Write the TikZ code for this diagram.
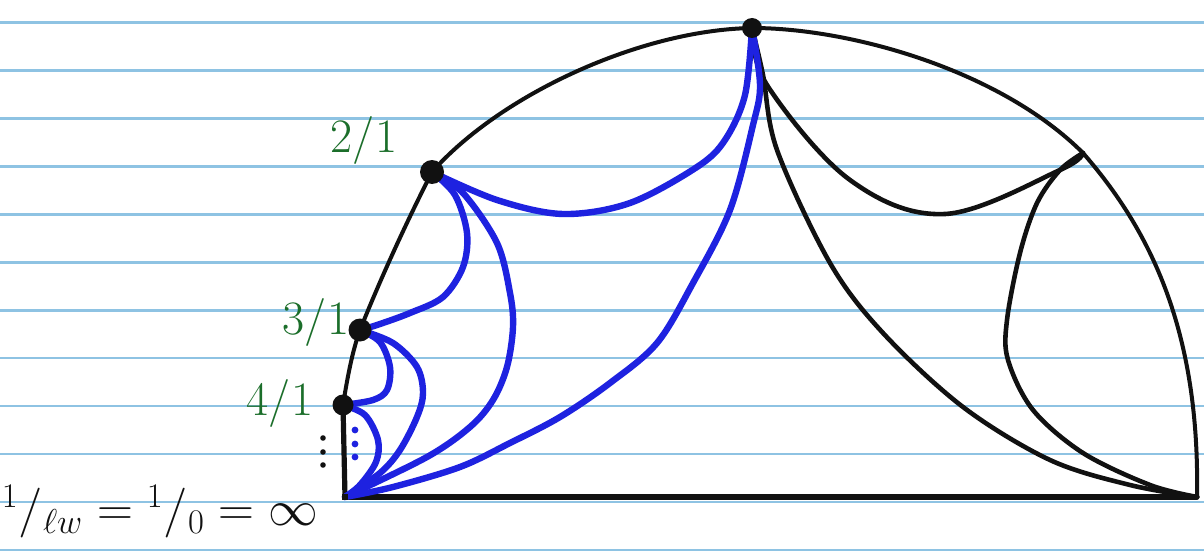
\documentclass[tikz,border=0pt]{standalone}
\usepackage{amsmath}
\definecolor{paper}{HTML}{8EC3E3}
\definecolor{pen}{HTML}{1E22E0}
\definecolor{ink}{HTML}{111111}
\definecolor{grn}{HTML}{1B6E2A}
\tikzset{
  ruling/.style={draw=paper, line width=1.3pt},
  rim/.style={draw=ink, line width=2pt, line cap=round, line join=round},
  geo/.style={draw=ink, line width=2.3pt, line cap=round, line join=round},
  bluegeo/.style={draw=pen, line width=3.2pt, line cap=round, line join=round},
  vertex/.style={circle, fill=ink, inner sep=0pt, minimum size=#1},
  lab/.style={text=grn, font=\fontsize{24}{26}\selectfont},
  bdot/.style={circle, fill=pen, inner sep=0pt, minimum size=3.4pt},
  kdot/.style={circle, fill=ink, inner sep=0pt, minimum size=2.8pt}
}
\begin{document}
\begin{tikzpicture}[x=0.5pt, y=-0.5pt]
\useasboundingbox (0,0) rectangle (1204,551);
\fill[white] (0,0) rectangle (1204,551);
% ruled paper
\foreach \k in {0,...,11} {
  \draw[ruling] (0,{22.5+47.95*\k}) -- (1204,{22.5+47.95*\k});
}
% vertices
\coordinate (O) at (345,497);
\coordinate (P4) at (343,405);
\coordinate (P3) at (360,330);
\coordinate (P2) at (432,172);
\coordinate (T) at (752,28);
\coordinate (R) at (1083,153);
\coordinate (B) at (1197,497);
% boundary
\draw[geo, line width=2.6pt] (O) -- (P4);
\draw[geo, line width=2.6pt] (O) -- (B);
\draw[rim] (P4) .. controls (347,380) and (352,352) .. (P3)
           .. controls (380,280) and (405,225) .. (P2)
           .. controls (500,95) and (640,30) .. (T)
           .. controls (850,28) and (1000,70) .. (R)
           .. controls (1150,230) and (1200,330) .. (B);
% black geodesics
\draw[geo] plot[smooth, tension=0.55] coordinates {(T) (763,75) (777,150) (830,263) (883,333) (963,407) (1050,460) (1130,485) (B)};
\draw[geo] plot[smooth, tension=0.6] coordinates {(T) (767,85) (850,180) (945,214) (1060,170) (R)};
\draw[geo] plot[smooth, tension=0.55] coordinates {(R) (1060,170) (1037,203) (1020,253) (1007,320) (1008,360) (1033,410) (1083,453) (1150,485) (B)};
% blue geodesics
\draw[bluegeo] plot[smooth, tension=0.55] coordinates {(P2) (497,200) (563,214) (630,203) (697,167) (725,140) (745,95) (T)};
\draw[bluegeo] plot[smooth, tension=0.55] coordinates {(T) (760,85) (753,125) (730,210) (693,283) (657,343) (610,383) (560,417) (510,443) (460,467) (393,487) (O)};
\draw[bluegeo] plot[smooth, tension=0.55] coordinates {(P2) (463,193) (497,243) (510,293) (513,327) (507,367) (493,400) (470,427) (427,457) (O)};
\draw[bluegeo] plot[smooth, tension=0.55] coordinates {(P2) (455,195) (467,233) (463,267) (443,297) (410,313) (377,325) (P3)};
\draw[bluegeo] plot[smooth, tension=0.55] coordinates {(P3) (393,343) (417,367) (423,393) (417,417) (400,450) (380,473) (O)};
\draw[bluegeo] plot[smooth, tension=0.55] coordinates {(P3) (380,342) (390,367) (387,390) (373,400) (P4)};
\draw[bluegeo] plot[smooth, tension=0.55] coordinates {(P4) (365,415) (378,440) (376,462) (360,485) (O)};
% dots
\node[vertex=24pt/2] (v2) at (P2) {};
\node[vertex=23pt/2] (v3) at (P3) {};
\node[vertex=21pt/2] (v4) at (P4) {};
\node[vertex=20pt/2] (vT) at (T) {};
\node[vertex=6pt/2, rectangle] (vO) at (O) {};
\node[bdot] (b1) at (355,430) {};
\node[bdot] (b2) at (355,444) {};
\node[bdot] (b3) at (355,457) {};
\node[kdot] (k1) at (323,438) {};
\node[kdot] (k2) at (323,452) {};
\node[kdot] (k3) at (323,465) {};
% labels
\node[lab] (l2) at (364,140) {2/1};
\node[lab] (l3) at (316,322) {3/1};
\node[lab] (l4) at (280,403) {4/1};
\node[text=ink, font=\fontsize{24.5}{28}\selectfont] (linf) at (160,512) {${}^{1}/_{\ell w} = {}^{1}/_{0} = \infty$};
\end{tikzpicture}
\end{document}
